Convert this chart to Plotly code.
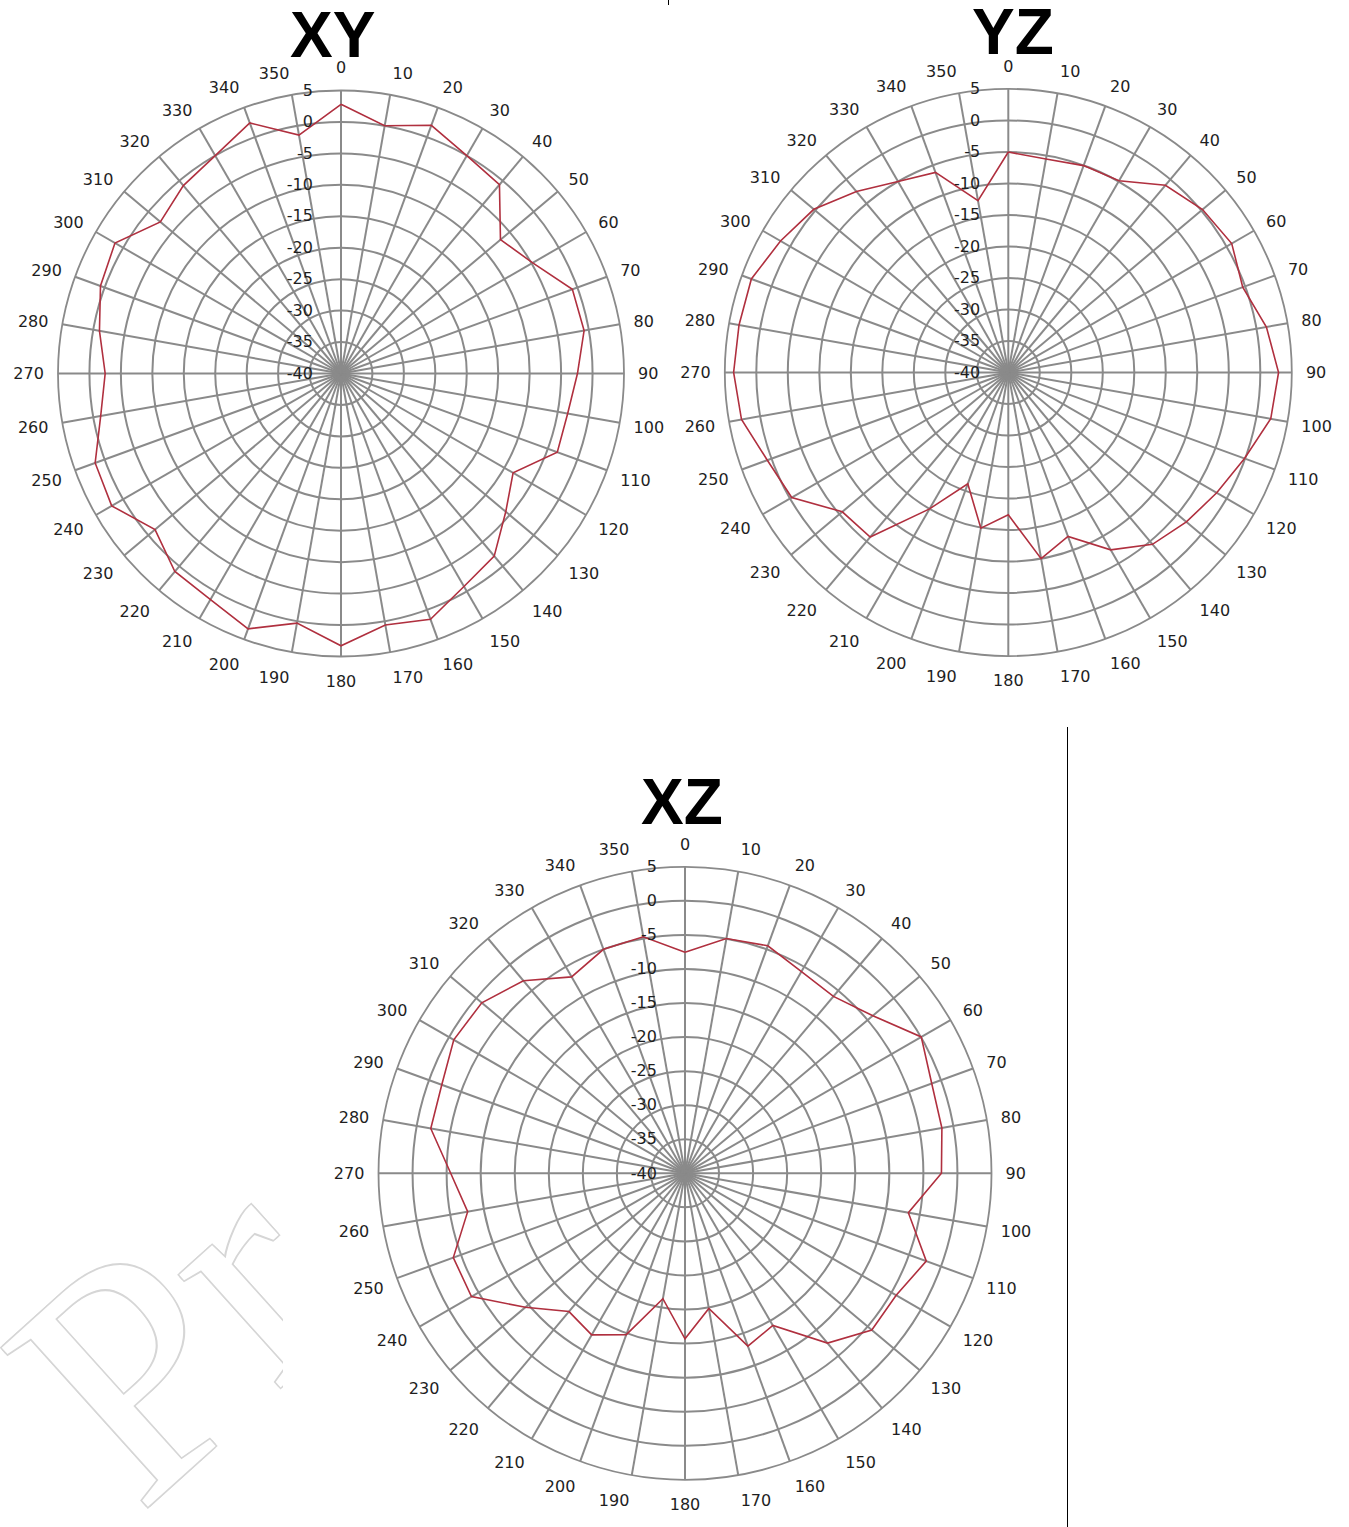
import plotly.graph_objects as go

# ---------------- data ----------------
angles = list(range(0, 360, 10))
angle_labels = [str(a) for a in angles]

xy_db = [2.8, 0.0, 2.0, 0.0, -0.8, -6.9, -4.8, -0.85, -0.75, -2.4,
         -3.4, -3.4, -8.4, -5.8, -2.1, -0.9, 1.6, 0.6, 3.3, 0.3,
         3.2, 1.5, 1.1, -1.4, 2.1, 1.6, -1.2, -2.5, -1.0, 0.7,
         1.5, -2.5, -1.0, 0.0, 2.4, -1.5]

yz_db = [-5.0, -5.6, -5.05, -4.85, -1.2, 0.25, 0.95, -0.4, 1.6, 2.9,
         2.3, -0.1, -1.8, -3.1, -4.4, -7.5, -12.3, -10.0, -17.4, -14.9,
         -21.2, -15.0, -5.9, -5.6, -0.3, 0.7, 3.0, 3.6, 3.4, 3.4,
         1.75, 0.3, -2.5, -5.0, -6.2, -12.3]

xz_db = [-7.55, -5.0, -4.45, -5.8, -6.1, -4.0, 0.05, -1.45, -1.7, -2.35,
         -6.7, -2.3, -4.2, -4.2, -7.45, -14.2, -13.0, -19.85, -15.7, -21.3,
         -14.8, -12.6, -13.5, -9.4, -3.8, -3.8, -7.6, -5.6, -2.1, -2.0,
         -0.8, -1.05, -3.1, -6.7, -5.0, -4.75]

radial_ticks = [-40, -35, -30, -25, -20, -15, -10, -5, 0, 5]
radial_labels = [str(v) for v in radial_ticks]

titles = ["XY", "YZ", "XZ"]

W, H = 1349, 1527
GRID = "#8a8a8a"
LINE = "#B0303F"
TICKFONT = dict(family="DejaVu Sans, sans-serif", size=16, color="#1e1e1e")


def px_dom(cx, cy, r):
    return dict(x=[(cx - r) / W, (cx + r) / W],
                y=[1 - (cy + r) / H, 1 - (cy - r) / H])


def polar_cfg(cx, cy, r):
    return dict(
        domain=px_dom(cx, cy, r),
        bgcolor="rgba(0,0,0,0)",
        angularaxis=dict(
            rotation=90, direction="clockwise",
            tickmode="array", tickvals=angles, ticktext=angle_labels,
            showgrid=True, gridcolor=GRID, gridwidth=1.6,
            showline=True, linecolor=GRID, linewidth=1.8,
            ticks="outside", ticklen=10, tickcolor="rgba(0,0,0,0)",
            tickfont=TICKFONT,
        ),
        radialaxis=dict(
            range=[-40, 5], tickmode="array", tickvals=radial_ticks,
            ticktext=radial_labels, angle=90, side="counterclockwise",
            tickangle=90, showline=False, showgrid=True,
            gridcolor=GRID, gridwidth=1.6,
            ticks="outside", ticklen=22, tickcolor="rgba(0,0,0,0)",
            tickfont=TICKFONT,
        ),
    )


fig = go.Figure()
series = [xy_db, yz_db, xz_db]
subs = ["polar", "polar2", "polar3"]
for vals, sp in zip(series, subs):
    fig.add_trace(go.Scatterpolar(
        r=vals + [vals[0]], theta=angles + [angles[0]],
        mode="lines", line=dict(color=LINE, width=1.6),
        subplot=sp, showlegend=False, hoverinfo="skip"))

title_pos = [(332, 35), (1013, 32), (682, 802)]
annotations = []
for t, (x, y) in zip(titles, title_pos):
    annotations.append(dict(
        text=f"<b>{t}</b>", x=x / W, y=1 - y / H, xref="paper", yref="paper",
        showarrow=False, xanchor="center", yanchor="middle",
        font=dict(family="Liberation Sans, Arial, sans-serif", size=64, color="#000000")))

# watermark (partly hidden behind the lower chart area in the original)
annotations.append(dict(
    text="Pr", x=-60 / W, y=1 - 1570 / H, xref="paper", yref="paper",
    showarrow=False, textangle=-42,
    font=dict(family="Liberation Serif, DejaVu Serif, serif", size=330, color="#ffffff",
              shadow="1.5px 1.5px 0 #d6d6d6, -1.5px -1.5px 0 #d6d6d6, 1.5px -1.5px 0 #d6d6d6, -1.5px 1.5px 0 #d6d6d6")))

shapes = [
    dict(type="line", xref="paper", yref="paper", x0=668.5 / W, x1=668.5 / W,
         y0=1, y1=1 - 5 / H, line=dict(color="#000", width=1)),
    dict(type="line", xref="paper", yref="paper", x0=1067.5 / W, x1=1067.5 / W,
         y0=1 - 727 / H, y1=0, line=dict(color="#000", width=1)),
]

fig.update_layout(
    width=W, height=H, margin=dict(l=0, r=0, t=0, b=0),
    paper_bgcolor="white", plot_bgcolor="white",
    polar=polar_cfg(341, 373.5, 283),
    polar2=polar_cfg(1008.3, 372.5, 283.5),
    polar3=polar_cfg(685, 1173.3, 306.5),
    annotations=annotations, shapes=shapes,
)

post = """
document.body.style.margin='0px';
document.body.style.padding='0px';
(function(){
  var ns='http://www.w3.org/2000/svg';
  var anns=document.querySelectorAll('g.annotation');
  anns.forEach(function(a){
    if(a.textContent.trim()==='Pr'){
      var svg=a.ownerSVGElement;
      var defs=svg.querySelector('defs');
      if(!defs){defs=document.createElementNS(ns,'defs');svg.insertBefore(defs,svg.firstChild);}
      var cp=document.createElementNS(ns,'clipPath');
      cp.setAttribute('id','wmclip');
      cp.setAttribute('clipPathUnits','userSpaceOnUse');
      var r=document.createElementNS(ns,'rect');
      r.setAttribute('x','-600');r.setAttribute('y','-600');
      r.setAttribute('width','883');r.setAttribute('height','4000');
      cp.appendChild(r);defs.appendChild(cp);
      a.setAttribute('clip-path','url(#wmclip)');
    }
  });
})();
"""

fig.write_html("out.html", config={"displayModeBar": False}, post_script=post)
